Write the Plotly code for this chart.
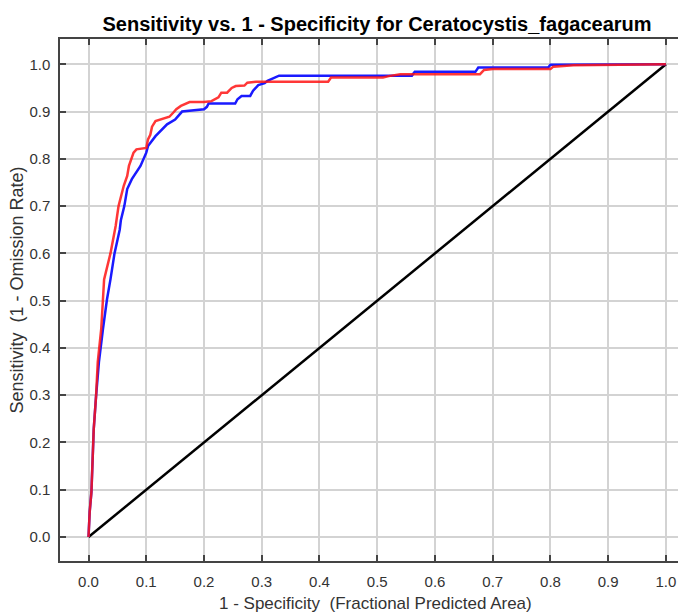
import plotly.graph_objects as go

# Test data (blue)
test_fpr = [0, 0.002, 0.005, 0.006, 0.007, 0.009, 0.013, 0.018, 0.025, 0.032, 0.038, 0.045,
            0.054, 0.056, 0.062, 0.067, 0.075, 0.09, 0.1, 0.103, 0.116, 0.127, 0.136, 0.15,
            0.162, 0.2, 0.205, 0.208, 0.254, 0.258, 0.265, 0.28, 0.285, 0.294, 0.305, 0.31,
            0.33, 0.56, 0.565, 0.67, 0.675, 0.796, 0.8, 1.0]
test_tpr = [0, 0.053, 0.095, 0.137, 0.18, 0.228, 0.297, 0.37, 0.44, 0.503, 0.545, 0.6,
            0.65, 0.67, 0.70, 0.736, 0.757, 0.785, 0.813, 0.827, 0.848, 0.862, 0.873, 0.883,
            0.9, 0.905, 0.91, 0.917, 0.917, 0.926, 0.933, 0.933, 0.944, 0.956, 0.96, 0.965,
            0.976, 0.976, 0.984, 0.984, 0.993, 0.993, 0.999, 1.0]

# Training data (red)
train_fpr = [0, 0.002, 0.005, 0.006, 0.007, 0.009, 0.013, 0.016, 0.022, 0.025, 0.027, 0.038,
             0.047, 0.052, 0.061, 0.067, 0.07, 0.078, 0.083, 0.1, 0.103, 0.107, 0.11, 0.116,
             0.125, 0.14, 0.147, 0.152, 0.16, 0.175, 0.2, 0.213, 0.225, 0.23, 0.24, 0.248,
             0.255, 0.27, 0.275, 0.29, 0.415, 0.42, 0.51, 0.52, 0.54, 0.678, 0.685, 0.70,
             0.80, 0.805, 0.84, 1.0]
train_tpr = [0, 0.053, 0.095, 0.137, 0.18, 0.228, 0.297, 0.37, 0.44, 0.503, 0.545, 0.6,
             0.658, 0.70, 0.743, 0.764, 0.785, 0.813, 0.82, 0.823, 0.841, 0.851, 0.868, 0.88,
             0.884, 0.889, 0.898, 0.905, 0.912, 0.92, 0.92, 0.922, 0.93, 0.94, 0.94, 0.95,
             0.954, 0.955, 0.961, 0.963, 0.963, 0.972, 0.972, 0.975, 0.979, 0.979, 0.988, 0.99,
             0.99, 0.995, 0.998, 1.0]

random_x = [0, 1]
random_y = [0, 1]

tick_vals = [0.0, 0.1, 0.2, 0.3, 0.4, 0.5, 0.6, 0.7, 0.8, 0.9, 1.0]
tick_text = ["0.0", "0.1", "0.2", "0.3", "0.4", "0.5", "0.6", "0.7", "0.8", "0.9", "1.0"]

title_text = "Sensitivity vs. 1 - Specificity for Ceratocystis_fagacearum"
x_title = "1 - Specificity  (Fractional Predicted Area)"
y_title = "Sensitivity  (1 - Omission Rate)"

fig = go.Figure()
fig.add_trace(go.Scatter(x=random_x, y=random_y, mode="lines",
                         line=dict(color="black", width=2.5), showlegend=False))
fig.add_trace(go.Scatter(x=test_fpr, y=test_tpr, mode="lines",
                         line=dict(color="#1a1aff", width=2.5), showlegend=False))
fig.add_trace(go.Scatter(x=train_fpr, y=train_tpr, mode="lines",
                         line=dict(color="rgba(255,20,20,0.85)", width=2.5), showlegend=False))

font_fam = "Liberation Sans, Arial, sans-serif"
axis_common = dict(
    tickvals=tick_vals, ticktext=tick_text,
    showgrid=True, gridcolor="#d3d3d3", gridwidth=1.5,
    showline=True, linecolor="#444444", linewidth=1.5, mirror="ticks",
    ticks="inside", ticklen=6, tickcolor="#444444", tickwidth=1.5,
    zeroline=False, automargin=False,
    tickfont=dict(family=font_fam, size=15, color="#333333"),
)
fig.update_layout(
    width=686, height=612,
    margin=dict(l=52, r=9, t=31, b=59),
    paper_bgcolor="white", plot_bgcolor="white",
    title=dict(text="<b>" + title_text + "</b>",
               x=0.538, xanchor="center", y=0.974, yanchor="middle",
               font=dict(family=font_fam, size=20, color="black")),
    xaxis=dict(range=[-0.0494, 1.033], ticklabelstandoff=6, **axis_common),
    yaxis=dict(range=[-0.0508, 1.0535], ticklabelstandoff=5, **axis_common),
    annotations=[
        dict(text=x_title, xref="paper", yref="paper", x=0.505, y=-0.0805,
             xanchor="center", yanchor="middle", showarrow=False,
             font=dict(family=font_fam, size=17, color="#333333")),
        dict(text=y_title, xref="paper", yref="paper", x=-0.068, y=0.519,
             xanchor="center", yanchor="middle", textangle=-90, showarrow=False,
             font=dict(family=font_fam, size=18, color="#333333")),
    ],
)
fig.write_html("out.html")
